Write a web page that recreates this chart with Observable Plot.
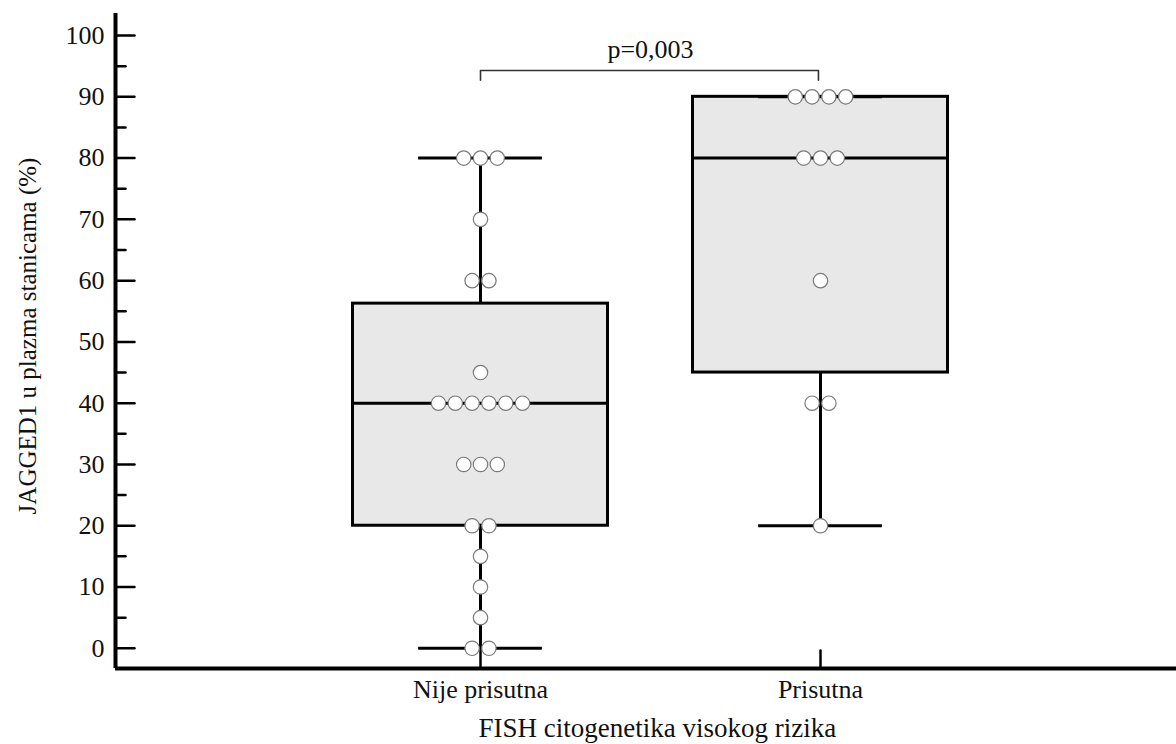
<!DOCTYPE html>
<html>
<head>
<meta charset="utf-8">
<script src="https://cdn.jsdelivr.net/npm/d3@7"></script>
<script src="https://cdn.jsdelivr.net/npm/@observablehq/plot@0.6"></script>
<style>
  body { margin: 0; background: #fff; }
  #chart svg { display: block; }
</style>
</head>
<body>
<div id="chart"></div>
<script>
// ---- data ----
const categories = ["Nije prisutna", "Prisutna"];
const valuesNije = [80, 80, 80, 70, 60, 60, 45, 40, 40, 40, 40, 40, 40, 30, 30, 30, 20, 20, 15, 10, 5, 0, 0];
const valuesPrisutna = [90, 90, 90, 90, 80, 80, 80, 60, 40, 40, 20];
const q1 = [20, 45];
const medians = [40, 80];
const q3 = [56.25, 90];
const whiskerLow = [0, 20];
const whiskerHigh = [80, 90];
const yMajorTicks = [0, 10, 20, 30, 40, 50, 60, 70, 80, 90, 100];
const yMinorTicks = [5, 15, 25, 35, 45, 55, 65, 75, 85, 95];
const pLabel = "p=0,003";
const bracketY = 94.3;
const bracketDrop = 1.6;
const pLabelY = 97.7;
const yLabel = "JAGGED1 u plazma stanicama (%)";
const xLabel = "FISH citogenetika visokog rizika";
const xLabelPos = 1.52;

// ---- layout ----
const W = 1176, H = 744;
const mL = 115, mR = 0, mT = 13, mB = 76;
const pxPerUnit = 340;
const x0 = 1 - 365 / pxPerUnit;
const xDomain = [x0, x0 + (W - mL - mR) / pxPerUnit];
const yDomain = [-3.3, 103.6];
const halfBox = 0.375;
const halfCap = 0.182;
const dotSpacing = 16.8 / pxPerUnit;
const font = "'Liberation Serif', 'Times New Roman', serif";

const stats = categories.map((c, i) => ({
  pos: i + 1, q1: q1[i], med: medians[i], q3: q3[i], lo: whiskerLow[i], hi: whiskerHigh[i]
}));

// beeswarm-like horizontal spreading of equal values
function spread(values, pos) {
  const counts = d3.rollup(values, v => v.length, d => d);
  const seen = new Map();
  return values.map(v => {
    const n = counts.get(v);
    const k = seen.get(v) || 0;
    seen.set(v, k + 1);
    return { x: pos + (k - (n - 1) / 2) * dotSpacing, y: v };
  });
}
const dots = [...spread(valuesNije, 1), ...spread(valuesPrisutna, 2)];

const bracket = [
  { x: 1, y: bracketY - bracketDrop },
  { x: 1, y: bracketY },
  { x: 2 - 0.006, y: bracketY },
  { x: 2 - 0.006, y: bracketY - bracketDrop }
];

// plain tick shape (no arrowhead)
const tickShape = { draw(context, l) { context.moveTo(0, 0); context.lineTo(0, -l); } };

const chart = Plot.plot({
  width: W,
  height: H,
  marginLeft: mL,
  marginRight: mR,
  marginTop: mT,
  marginBottom: mB,
  style: { fontFamily: font, background: "#fff", color: "#111" },
  x: { domain: xDomain, axis: null },
  y: { domain: yDomain, axis: null },
  marks: [
    // boxes
    Plot.rect(stats, {
      x1: d => d.pos - halfBox, x2: d => d.pos + halfBox,
      y1: "q1", y2: "q3",
      fill: "#e8e8e8", stroke: "#000", strokeWidth: 3
    }),
    // whiskers
    Plot.ruleX(stats, { x: "pos", y1: "q3", y2: "hi", stroke: "#000", strokeWidth: 3 }),
    Plot.ruleX(stats, { x: "pos", y1: "lo", y2: "q1", stroke: "#000", strokeWidth: 3 }),
    // caps
    Plot.ruleY(stats, { y: "hi", x1: d => d.pos - halfCap, x2: d => d.pos + halfCap, stroke: "#000", strokeWidth: 3 }),
    Plot.ruleY(stats, { y: "lo", x1: d => d.pos - halfCap, x2: d => d.pos + halfCap, stroke: "#000", strokeWidth: 3 }),
    // medians
    Plot.ruleY(stats, { y: "med", x1: d => d.pos - halfBox, x2: d => d.pos + halfBox, stroke: "#000", strokeWidth: 3 }),
    // x ticks (inward)
    Plot.vector([1, 2], { x: d => d, frameAnchor: "bottom", length: 18, rotate: 0, anchor: "start", shape: tickShape, stroke: "#000", strokeWidth: 2.5 }),
    // dots
    Plot.dot(dots, { x: "x", y: "y", r: 7.2, fill: "#fff", stroke: "#7a7a7a", strokeWidth: 1.2 }),
    // y ticks (inward)
    Plot.vector(yMajorTicks, { y: d => d, frameAnchor: "left", length: 19, rotate: 90, anchor: "start", shape: tickShape, stroke: "#000", strokeWidth: 2.5 }),
    Plot.vector(yMinorTicks, { y: d => d, frameAnchor: "left", length: 10, rotate: 90, anchor: "start", shape: tickShape, stroke: "#000", strokeWidth: 2.5 }),
    // axis lines
    Plot.ruleX([xDomain[0]], { stroke: "#000", strokeWidth: 4 }),
    Plot.ruleY([yDomain[0]], { stroke: "#000", strokeWidth: 4 }),
    // y tick labels
    Plot.text(yMajorTicks, { y: d => d, text: d => String(d), frameAnchor: "left", dx: -11, textAnchor: "end", fontSize: 26, fill: "#111" }),
    // x tick labels
    Plot.text(categories, { x: (d, i) => i + 1, text: d => d, frameAnchor: "bottom", dy: 21, fontSize: 26, fill: "#111", lineAnchor: "middle" }),
    // axis titles
    Plot.text([xLabel], { x: xLabelPos, text: d => d, frameAnchor: "bottom", dy: 60, fontSize: 27, fill: "#111", lineAnchor: "middle" }),
    Plot.text([yLabel], { text: d => d, frameAnchor: "left", dx: -88, dy: -5, rotate: -90, fontSize: 25, fill: "#111", textAnchor: "middle", lineAnchor: "middle" }),
    // significance bracket
    Plot.line(bracket, { x: "x", y: "y", stroke: "#333", strokeWidth: 1.6 }),
    Plot.text([pLabel], { x: d3.mean([1, 2]), y: pLabelY, text: d => d, fontSize: 26, fill: "#111" })
  ]
});
document.getElementById("chart").append(chart);
</script>
</body>
</html>
